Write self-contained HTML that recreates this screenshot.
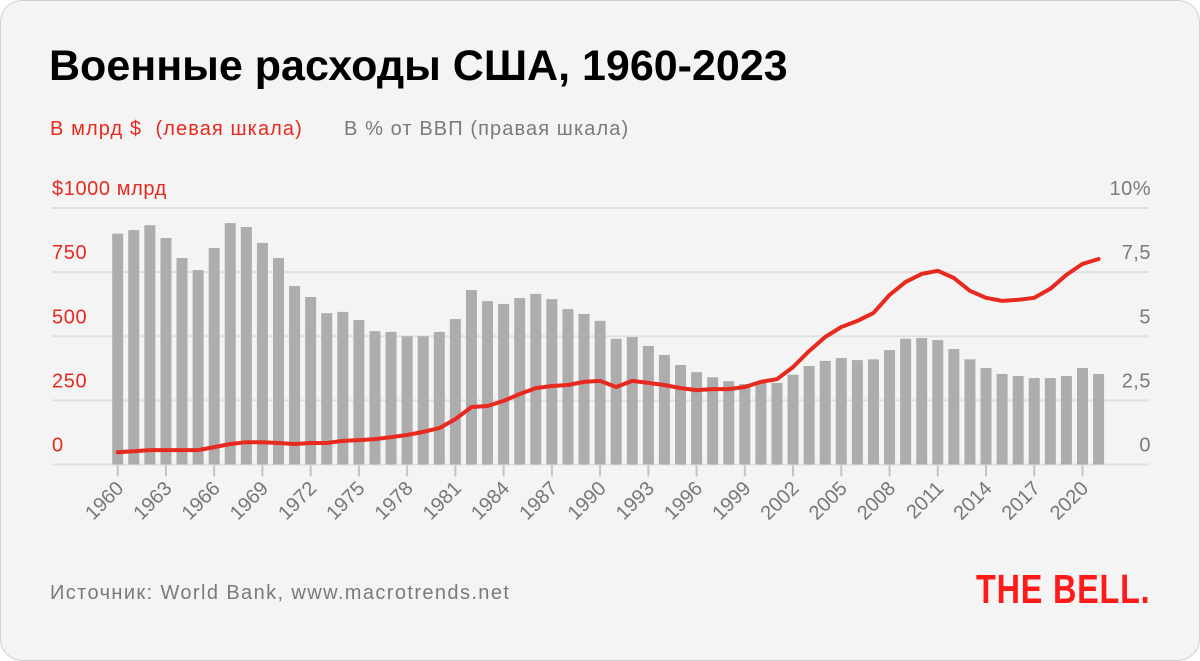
<!DOCTYPE html>
<html><head><meta charset="utf-8">
<style>
html,body{margin:0;padding:0;background:#fff;}
#card{position:absolute;left:0;top:0;width:1198px;height:659px;border:1px solid #cfcfcf;border-radius:22px;background:#f4f4f4;overflow:hidden;font-family:"Liberation Sans",sans-serif;}
#title{position:absolute;left:48px;top:41px;font-size:43px;font-weight:bold;color:#000;letter-spacing:0px;white-space:nowrap;}
.leg{position:absolute;top:117px;font-size:20px;white-space:nowrap;letter-spacing:1.1px;}
#src{position:absolute;left:49px;top:581px;font-size:20px;color:#7a7a7a;letter-spacing:1.4px;white-space:nowrap;}
#logo{position:absolute;left:975px;top:565px;font-weight:bold;font-size:41px;color:#ff1a1a;letter-spacing:1px;transform:scaleX(0.79);transform-origin:left top;white-space:nowrap;}
svg{position:absolute;left:0;top:0;}
</style></head><body>
<div id="card">
<div id="title">Военные расходы США, 1960-2023</div>
<div class="leg" style="left:49px;color:#e8291f">В млрд $&nbsp; (левая шкала)</div>
<div class="leg" style="left:343px;color:#7a7a7a">В % от ВВП (правая шкала)</div>
<svg id="chart" width="1200" height="661"></svg>
<div id="src">Источник: World Bank, www.macrotrends.net</div>
<div id="logo">THE BELL.</div>
</div>
<script>
const years = [1960,1961,1962,1963,1964,1965,1966,1967,1968,1969,1970,1971,1972,1973,1974,1975,1976,1977,1978,1979,1980,1981,1982,1983,1984,1985,1986,1987,1988,1989,1990,1991,1992,1993,1994,1995,1996,1997,1998,1999,2000,2001,2002,2003,2004,2005,2006,2007,2008,2009,2010,2011,2012,2013,2014,2015,2016,2017,2018,2019,2020,2021];
const gdpPct = [9.0,9.14,9.33,8.83,8.05,7.58,8.44,9.41,9.26,8.64,8.05,6.96,6.53,5.9,5.95,5.63,5.2,5.17,5.0,5.0,5.17,5.67,6.8,6.37,6.26,6.49,6.65,6.45,6.06,5.87,5.6,4.9,4.97,4.62,4.27,3.88,3.6,3.4,3.25,3.14,3.2,3.18,3.5,3.84,4.04,4.15,4.07,4.1,4.46,4.9,4.93,4.85,4.5,4.1,3.76,3.53,3.45,3.37,3.37,3.45,3.76,3.53];
const usdBn = [48,52,56,56,56,56,68,80,87,87,84,80,84,84,92,95,99,107,115,127,142,177,224,228,248,275,298,306,310,322,326,302,326,318,310,298,290,294,294,302,322,333,380,442,497,536,560,591,661,712,743,755,727,677,650,638,642,650,685,739,782,801];
const leftTicks = [0,250,500,750,1000];
const leftLabels = ["0","250","500","750","$1000 млрд"];
const rightTicks = [0,2.5,5,7.5,10];
const rightLabels = ["0","2,5","5","7,5","10%"];

const NS="http://www.w3.org/2000/svg";
const svg=document.getElementById('chart');
const y0=463.5, yTop=207;
const xOf=yr=>116.7+(yr-1960)*16.08;
const yL=v=>y0-(v/1000)*(y0-yTop);
const yR=v=>y0-(v/10)*(y0-yTop);
function mk(t,a){const e=document.createElementNS(NS,t);for(const k in a)e.setAttribute(k,a[k]);svg.appendChild(e);return e;}

leftTicks.forEach((v,i)=>{
  const g=mk('line',{x1:51,x2:1148,y1:yL(v),y2:yL(v),stroke:'#e0e0e0','stroke-width':2});
  
  
  const t=mk('text',{x:51,y:yL(v)-13,'font-size':20,fill:'#e8291f','letter-spacing':0.6,'font-family':'Liberation Sans, sans-serif'});
  t.textContent=leftLabels[i];
  
  
});
rightTicks.forEach((v,i)=>{
  const t=mk('text',{x:1150,y:yR(v)-13,'font-size':20,fill:'#7a7a7a','letter-spacing':0.5,'text-anchor':'end','font-family':'Liberation Sans, sans-serif'});
  t.textContent=rightLabels[i];
  
  
});
years.forEach((yr,i)=>{
  const b=mk('rect',{x:xOf(yr)-5.5,y:yR(gdpPct[i]),width:11,height:y0-yR(gdpPct[i]),fill:'#adadad'});
  
  
  if((yr-1960)%3===0){
    const tk=mk('line',{x1:xOf(yr),x2:xOf(yr),y1:y0+1,y2:y0+12,stroke:'#c4c4c4','stroke-width':2});
    
    
    const t=mk('text',{x:0,y:0,'font-size':20,fill:'#777','text-anchor':'end','font-family':'Liberation Sans, sans-serif',transform:`translate(${xOf(yr)+7},${y0+25}) rotate(-45)`});
    t.textContent=yr;
    
    
  }
});
const d=years.map((yr,i)=>(i?'L':'M')+xOf(yr).toFixed(1)+','+yL(usdBn[i]).toFixed(1)).join(' ');
const ln=mk('path',{d:d,fill:'none',stroke:'#e8291f','stroke-width':4,'stroke-linejoin':'round','stroke-linecap':'round'});


</script>
</body></html>
